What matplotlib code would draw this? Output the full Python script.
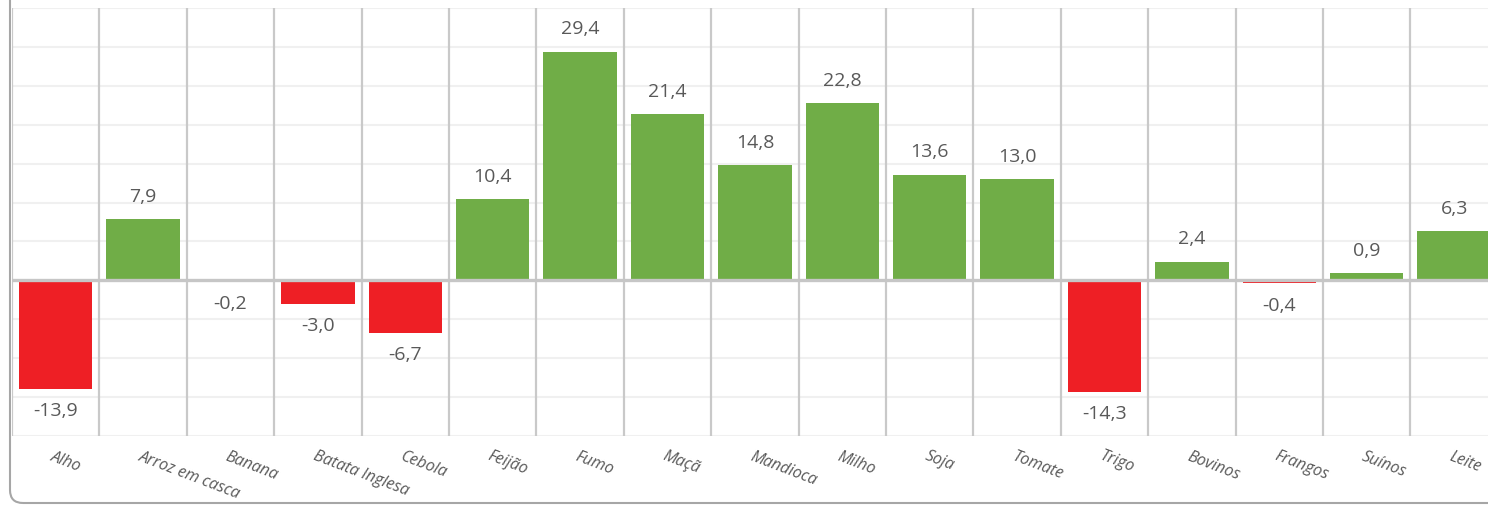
import matplotlib.pyplot as plt
import numpy as np
from matplotlib.patches import FancyBboxPatch

plt.rcParams['font.family'] = ['Open Sans', 'DejaVu Sans']

# dados (variação %)
categorias = ['Alho', 'Arroz em casca', 'Banana', 'Batata Inglesa', 'Cebola', 'Feijão',
              'Fumo', 'Maçã', 'Mandioca', 'Milho', 'Soja', 'Tomate', 'Trigo',
              'Bovinos', 'Frangos', 'Suínos', 'Leite']
valores = [-13.9, 7.9, -0.2, -3.0, -6.7, 10.4, 29.4, 21.4, 14.8, 22.8, 13.6, 13.0,
           -14.3, 2.4, -0.4, 0.9, 6.3]

verde = '#70AD47'
vermelho = '#EE1F25'
cinza_txt = '#595959'

fig = plt.figure(figsize=(14.88, 5.05), dpi=100)
W, H = 1488, 505
ax = fig.add_axes([12 / W, (H - 436) / H, 17 * 87.4 / W, 428 / H])

x = np.arange(len(categorias))
cores = [verde if v >= 0 else vermelho for v in valores]
ax.bar(x, valores, width=0.84, color=cores, zorder=2)

ax.set_xlim(-0.5, len(categorias) - 0.5)
ax.set_ylim(-20, 35)

# grades
for yv in np.arange(-20, 36, 5):
    if yv != 0:
        ax.axhline(yv, color='#F0F0F0', lw=1.5, zorder=0)
for xb in np.arange(-0.5, len(categorias), 1.0):
    ax.axvline(xb, color='#C9C9C9', lw=1.6, zorder=1)
ax.axhline(0, color='#C6C6C6', lw=2.4, zorder=3)

for s in ax.spines.values():
    s.set_visible(False)
ax.set_yticks([])
ax.set_xticks([])

# rótulos de dados
for xi, v in zip(x, valores):
    txt = f'{v:.1f}'.replace('.', ',')
    off = 16 if v >= 0 else -16
    ax.annotate(txt, (xi, v), xytext=(0, off), textcoords='offset points',
                ha='center', va='center', fontsize=14, color=cinza_txt)

# rótulos das categorias
for xi, c in zip(x, categorias):
    ax.annotate(c, (xi, -20), xytext=(-1, -9), textcoords='offset points',
                ha='left', va='top', rotation=-21, rotation_mode='anchor',
                fontsize=11.5, color=cinza_txt, style='italic', annotation_clip=False)

# borda arredondada do gráfico
borda = FancyBboxPatch((0.1, 0.02), 20, 10, boxstyle='round,pad=0,rounding_size=0.13',
                       transform=fig.dpi_scale_trans, fill=False, ec='#A6A6A6', lw=1.5)
fig.patches.append(borda)

fig.savefig('out.png', dpi=100)
